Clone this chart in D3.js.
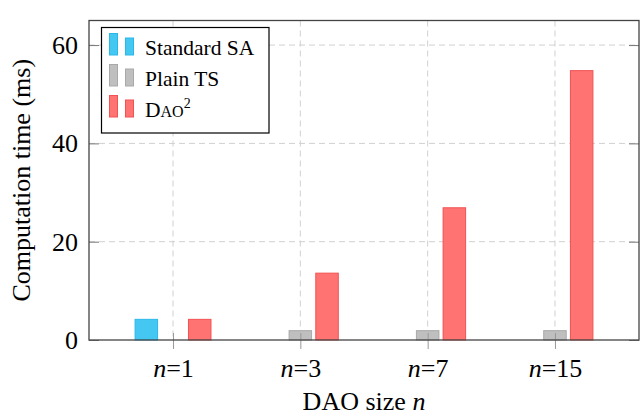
<!DOCTYPE html>
<html><head><meta charset="utf-8">
<script src="https://cdn.jsdelivr.net/npm/d3@7"></script>
<style>body{margin:0;background:#fff}svg{display:block}</style>
</head><body>
<svg id="c" width="640" height="416"></svg>
<script>
const categories = ["1", "3", "7", "15"];
const seriesNames = ["Standard SA", "Plain TS", "DAO2"];
const standardSA = [4.2, 0, 0, 0];
const plainTS = [0, 1.9, 1.9, 1.9];
const dao2 = [4.2, 13.6, 26.9, 54.8];
const yTicks = [0, 20, 40, 60];

const fills = ["#44c8f2", "#bfbfbf", "#ff7373"];
const strokes = ["#2ab8ea", "#a9a9a9", "#f25252"];
const series = [standardSA, plainTS, dao2];

const svg = d3.select("#c");
const L = 89, R = 639, T = 20.5, B = 340;
const FF = "'Liberation Serif'";

const x = d3.scaleLinear().domain([-0.66, categories.length - 1 + 0.66]).range([L, R]);
const y = d3.scaleLinear().domain([0, 65]).range([B, T]);
const off = 26.7, bw = 22.5;

// grid
const g = svg.append("g");
g.selectAll(".gy").data(yTicks.filter(d => d > 0)).join("line")
  .attr("x1", L).attr("x2", R).attr("y1", d => y(d)).attr("y2", d => y(d))
  .attr("stroke", "#d0d0d0").attr("stroke-dasharray", "6,4").attr("stroke-width", 1);
g.selectAll(".gx").data(categories.map((d, i) => i)).join("line")
  .attr("x1", d => x(d)).attr("x2", d => x(d)).attr("y1", T).attr("y2", B)
  .attr("stroke", "#d0d0d0").attr("stroke-dasharray", "6,4").attr("stroke-width", 1);

// bars
series.forEach((s, k) => {
  svg.append("g").selectAll("rect").data(s).join("rect")
    .attr("x", (d, i) => x(i) + (k - 1) * off - bw / 2)
    .attr("width", bw)
    .attr("y", d => y(d))
    .attr("height", d => B - y(d))
    .attr("fill", fills[k]).attr("stroke", strokes[k]).attr("stroke-width", 1);
});

// axes with d3
const yAxisL = d3.axisLeft(y).tickValues(yTicks).tickSize(-10).tickPadding(11).tickFormat(d3.format("d"));
const ya = svg.append("g").attr("transform", `translate(${L},0)`).call(yAxisL);
ya.attr("font-family", null).attr("font-size", null);
ya.select(".domain").remove();
ya.selectAll("line").attr("stroke", "#777");
ya.selectAll("text").style("font-family", FF).style("font-size", "26px").attr("fill", "#000");

const yAxisR = d3.axisRight(y).tickValues(yTicks).tickSize(-10).tickFormat("");
const yr = svg.append("g").attr("transform", `translate(${R},0)`).call(yAxisR);
yr.select(".domain").remove();
yr.selectAll("line").attr("stroke", "#777");

const xAxis = d3.axisBottom(x).tickValues(categories.map((d, i) => i)).tickSize(9).tickPadding(14).tickFormat("");
const xa = svg.append("g").attr("transform", `translate(0,${B})`).call(xAxis);
xa.attr("font-family", null).attr("font-size", null);
xa.select(".domain").remove();
xa.selectAll("line").attr("stroke", "#999").attr("y1", -7);
xa.selectAll(".tick").append("text")
  .attr("y", 37).attr("text-anchor", "middle")
  .style("font-family", FF).style("font-size", "26px").attr("fill", "#000")
  .each(function(d) {
    const t = d3.select(this);
    t.append("tspan").style("font-style", "italic").text("n");
    t.append("tspan").text("=" + categories[d]);
  });

// frame
svg.append("rect").attr("x", L).attr("y", T).attr("width", R - L).attr("height", B - T)
  .attr("fill", "none").attr("stroke", "#444").attr("stroke-width", 1.3);

// axis labels
const xl = svg.append("text").attr("x", (L + R) / 2).attr("y", 410).attr("text-anchor", "middle")
  .style("font-family", FF).style("font-size", "26px");
xl.append("tspan").text("DAO size ");
xl.append("tspan").style("font-style", "italic").text("n");

svg.append("text").attr("transform", `translate(30,${(T + B) / 2}) rotate(-90)`)
  .attr("text-anchor", "middle").style("font-family", FF).style("font-size", "26px")
  .text("Computation time (ms)");

// legend
const lg = svg.append("g");
lg.append("rect").attr("x", 101.5).attr("y", 27.5).attr("width", 167.5).attr("height", 105.5)
  .attr("fill", "#fff").attr("stroke", "#000").attr("stroke-width", 1.2);
seriesNames.forEach((name, k) => {
  const by = 55 + k * 31;
  lg.append("rect").attr("x", 109.5).attr("y", by - 21.5).attr("width", 8).attr("height", 21.5)
    .attr("fill", fills[k]).attr("stroke", strokes[k]);
  lg.append("rect").attr("x", 125.5).attr("y", by - 17).attr("width", 8).attr("height", 17)
    .attr("fill", fills[k]).attr("stroke", strokes[k]);
  const t = lg.append("text").attr("x", 145).attr("y", by - 0.5)
    .style("font-family", FF).style("font-size", "21.5px");
  if (name === "DAO2") {
    t.append("tspan").text("D");
    t.append("tspan").style("font-size", "16px").text("AO");
    t.append("tspan").style("font-size", "14px").attr("dy", -9).text("2");
  } else {
    t.text(name);
  }
});
</script>
</body></html>
